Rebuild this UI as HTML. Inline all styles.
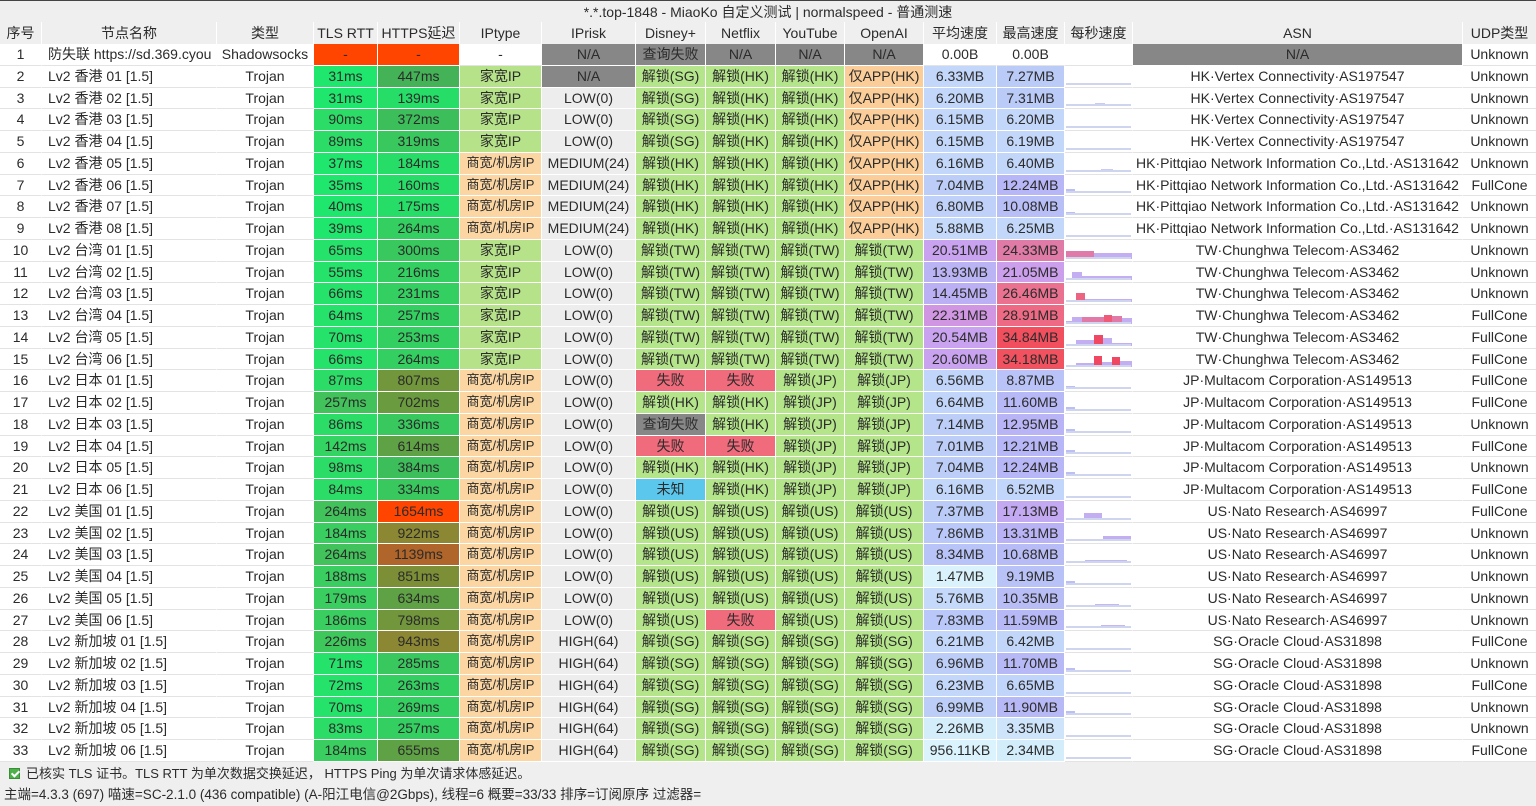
<!DOCTYPE html>
<html><head><meta charset="utf-8">
<style>
*{margin:0;padding:0;box-sizing:border-box}
body{width:1536px;height:806px;background:#efefef;font-family:"Liberation Sans","Noto Sans CJK SC",sans-serif;font-size:14px;color:#2b2b2b;overflow:hidden;position:relative}
.title{position:absolute;top:0;left:0;width:1536px;height:22px;line-height:22px;text-align:center;border-top:1px solid #444}
.hdr{position:absolute;top:22px;left:0;width:1536px;height:22px;display:flex;line-height:22px}
.tb{position:absolute;top:44px;left:0;width:1536px;background:#fff}
.r{display:flex;height:21.76px;line-height:20.76px}
.r>div,.hdr>div{flex:none;text-align:center;white-space:nowrap;overflow:hidden;border-right:1px solid #fff}
.r>div{background:#fff;border-bottom:1px solid #e3e3e3}
.r>div[class]{border-bottom-color:#fff}
.r>div:nth-child(1),.hdr>div:nth-child(1){width:42px}
.r>div:nth-child(2),.hdr>div:nth-child(2){width:175px}
.r>div:nth-child(2){text-align:left;padding-left:6px}
.r>div:nth-child(3),.hdr>div:nth-child(3){width:97px}
.r>div:nth-child(4),.hdr>div:nth-child(4){width:64px}
.r>div:nth-child(5),.hdr>div:nth-child(5){width:82px}
.r>div:nth-child(6),.hdr>div:nth-child(6){width:82px}
.r>div:nth-child(7),.hdr>div:nth-child(7){width:94px}
.r>div:nth-child(8),.hdr>div:nth-child(8){width:70px}
.r>div:nth-child(9),.hdr>div:nth-child(9){width:70px}
.r>div:nth-child(10),.hdr>div:nth-child(10){width:69px}
.r>div:nth-child(11),.hdr>div:nth-child(11){width:79px}
.r>div:nth-child(12),.hdr>div:nth-child(12){width:73px}
.r>div:nth-child(13),.hdr>div:nth-child(13){width:68px}
.r>div:nth-child(14),.hdr>div:nth-child(14){width:68px;position:relative}
.r>div:nth-child(15),.hdr>div:nth-child(15){width:330px}
.r>div:nth-child(16),.hdr>div:nth-child(16){width:73px;border-right:none}
.r>div:nth-child(14)::after{content:"";position:absolute;left:1px;right:1px;bottom:2px;height:2px;background:#cfd5ef}
.r:first-child>div:nth-child(14)::after{display:none}
.r>div:nth-child(14) i{position:absolute;bottom:2px;display:block}
.r>.a1{background:#1fe66c}.r>.a2{background:#25e26a}.r>.a3{background:#2bdd67}.r>.a4{background:#34d462}.r>.a5{background:#3acd5f}.r>.a6{background:#3ec85c}.r>.a7{background:#41c25a}
.r>.b1{background:#26dd68}.r>.b2{background:#33cf61}.r>.b3{background:#38c85e}.r>.b4{background:#3cbe5a}.r>.b5{background:#44b256}.r>.b6{background:#5fa245}.r>.b7{background:#6a9b3f}.r>.b8{background:#71963b}.r>.b9{background:#7c8f37}.r>.b10{background:#8b8733}.r>.b11{background:#b0652a}.r>.rd{background:#ff4500}
.r>.fm{background:#b6e28a}.r>.bz{background:#fbd6a3;font-size:13px}.r>.na{background:#878787}.r>.lo{background:#ededed}.r>.ok{background:#b5e58b}.r>.fl{background:#f06b7b}.r>.uk{background:#5cc7ec}.r>.ap{background:#fbcd98}
.foot1{position:absolute;top:763px;left:0;height:21px;line-height:21px;padding-left:26px;width:1536px;font-size:13px}
.foot2{position:absolute;top:784px;left:0;height:22px;line-height:22px;padding-left:4px;width:1536px;font-size:13.5px}
.cb{position:absolute;left:9px;top:5px;width:11px;height:11px;background:#4db14a;border:1px solid #3a8c38}
.cb::after{content:"";position:absolute;left:3px;top:0px;width:3px;height:6px;border:solid #fff;border-width:0 2px 2px 0;transform:rotate(45deg)}
</style></head><body>
<div class="title">*.*.top-1848 - MiaoKo 自定义测试 | normalspeed - 普通测速</div>
<div class="hdr"><div>序号</div><div>节点名称</div><div>类型</div><div>TLS RTT</div><div>HTTPS延迟</div><div>IPtype</div><div>IPrisk</div><div>Disney+</div><div>Netflix</div><div>YouTube</div><div>OpenAI</div><div>平均速度</div><div>最高速度</div><div>每秒速度</div><div>ASN</div><div>UDP类型</div></div>
<div class="tb">
<div class="r"><div>1</div><div>防失联 https://sd.369.cyou</div><div>Shadowsocks</div><div class="rd">-</div><div class="rd">-</div><div>-</div><div class="na">N/A</div><div class="na">查询失败</div><div class="na">N/A</div><div class="na">N/A</div><div class="na">N/A</div><div>0.00B</div><div>0.00B</div><div></div><div class="na">N/A</div><div>Unknown</div></div>
<div class="r"><div>2</div><div>Lv2 香港 01 [1.5]</div><div>Trojan</div><div class="a1">31ms</div><div class="b5">447ms</div><div class="fm">家宽IP</div><div class="na">N/A</div><div class="ok">解锁(SG)</div><div class="ok">解锁(HK)</div><div class="ok">解锁(HK)</div><div class="ap">仅APP(HK)</div><div class="s" style="background:#c3d7fa">6.33MB</div><div class="s" style="background:#bbcbf8">7.27MB</div><div></div><div>HK·Vertex Connectivity·AS197547</div><div>Unknown</div></div>
<div class="r"><div>3</div><div>Lv2 香港 02 [1.5]</div><div>Trojan</div><div class="a1">31ms</div><div class="b1">139ms</div><div class="fm">家宽IP</div><div class="lo">LOW(0)</div><div class="ok">解锁(SG)</div><div class="ok">解锁(HK)</div><div class="ok">解锁(HK)</div><div class="ap">仅APP(HK)</div><div class="s" style="background:#c3d7fa">6.20MB</div><div class="s" style="background:#bbcbf8">7.31MB</div><div><i style="left:30px;width:10px;height:3px;background:#c8ccf2"></i></div><div>HK·Vertex Connectivity·AS197547</div><div>Unknown</div></div>
<div class="r"><div>4</div><div>Lv2 香港 03 [1.5]</div><div>Trojan</div><div class="a3">90ms</div><div class="b4">372ms</div><div class="fm">家宽IP</div><div class="lo">LOW(0)</div><div class="ok">解锁(SG)</div><div class="ok">解锁(HK)</div><div class="ok">解锁(HK)</div><div class="ap">仅APP(HK)</div><div class="s" style="background:#c3d7fa">6.15MB</div><div class="s" style="background:#c3d7fa">6.20MB</div><div></div><div>HK·Vertex Connectivity·AS197547</div><div>Unknown</div></div>
<div class="r"><div>5</div><div>Lv2 香港 04 [1.5]</div><div>Trojan</div><div class="a3">89ms</div><div class="b3">319ms</div><div class="fm">家宽IP</div><div class="lo">LOW(0)</div><div class="ok">解锁(SG)</div><div class="ok">解锁(HK)</div><div class="ok">解锁(HK)</div><div class="ap">仅APP(HK)</div><div class="s" style="background:#c3d7fa">6.15MB</div><div class="s" style="background:#c3d7fa">6.19MB</div><div></div><div>HK·Vertex Connectivity·AS197547</div><div>Unknown</div></div>
<div class="r"><div>6</div><div>Lv2 香港 05 [1.5]</div><div>Trojan</div><div class="a1">37ms</div><div class="b1">184ms</div><div class="bz">商宽/机房IP</div><div class="lo">MEDIUM(24)</div><div class="ok">解锁(HK)</div><div class="ok">解锁(HK)</div><div class="ok">解锁(HK)</div><div class="ap">仅APP(HK)</div><div class="s" style="background:#c3d7fa">6.16MB</div><div class="s" style="background:#c2d6fa">6.40MB</div><div><i style="left:36px;width:12px;height:3px;background:#c8ccf2"></i></div><div>HK·Pittqiao Network Information Co.,Ltd.·AS131642</div><div>Unknown</div></div>
<div class="r"><div>7</div><div>Lv2 香港 06 [1.5]</div><div>Trojan</div><div class="a1">35ms</div><div class="b1">160ms</div><div class="bz">商宽/机房IP</div><div class="lo">MEDIUM(24)</div><div class="ok">解锁(HK)</div><div class="ok">解锁(HK)</div><div class="ok">解锁(HK)</div><div class="ap">仅APP(HK)</div><div class="s" style="background:#bccdf8">7.04MB</div><div class="s" style="background:#b7b6f6">12.24MB</div><div><i style="left:1px;width:9px;height:4px;background:#bcbff3"></i></div><div>HK·Pittqiao Network Information Co.,Ltd.·AS131642</div><div>FullCone</div></div>
<div class="r"><div>8</div><div>Lv2 香港 07 [1.5]</div><div>Trojan</div><div class="a1">40ms</div><div class="b1">175ms</div><div class="bz">商宽/机房IP</div><div class="lo">MEDIUM(24)</div><div class="ok">解锁(HK)</div><div class="ok">解锁(HK)</div><div class="ok">解锁(HK)</div><div class="ap">仅APP(HK)</div><div class="s" style="background:#bfd1f9">6.80MB</div><div class="s" style="background:#b8bef6">10.08MB</div><div><i style="left:1px;width:9px;height:3px;background:#bcbff3"></i></div><div>HK·Pittqiao Network Information Co.,Ltd.·AS131642</div><div>Unknown</div></div>
<div class="r"><div>9</div><div>Lv2 香港 08 [1.5]</div><div>Trojan</div><div class="a1">39ms</div><div class="b2">264ms</div><div class="bz">商宽/机房IP</div><div class="lo">MEDIUM(24)</div><div class="ok">解锁(HK)</div><div class="ok">解锁(HK)</div><div class="ok">解锁(HK)</div><div class="ap">仅APP(HK)</div><div class="s" style="background:#c5dafa">5.88MB</div><div class="s" style="background:#c3d7fa">6.25MB</div><div></div><div>HK·Pittqiao Network Information Co.,Ltd.·AS131642</div><div>Unknown</div></div>
<div class="r"><div>10</div><div>Lv2 台湾 01 [1.5]</div><div>Trojan</div><div class="a2">65ms</div><div class="b3">300ms</div><div class="fm">家宽IP</div><div class="lo">LOW(0)</div><div class="ok">解锁(TW)</div><div class="ok">解锁(TW)</div><div class="ok">解锁(TW)</div><div class="ok">解锁(TW)</div><div class="s" style="background:#c9a3ef">20.51MB</div><div class="s" style="background:#e07aa6">24.33MB</div><div><i style="left:1px;width:28px;height:8px;background:#e07aa8"></i><i style="left:29px;width:38px;height:6px;background:#c4aef2"></i></div><div>TW·Chunghwa Telecom·AS3462</div><div>Unknown</div></div>
<div class="r"><div>11</div><div>Lv2 台湾 02 [1.5]</div><div>Trojan</div><div class="a2">55ms</div><div class="b2">216ms</div><div class="fm">家宽IP</div><div class="lo">LOW(0)</div><div class="ok">解锁(TW)</div><div class="ok">解锁(TW)</div><div class="ok">解锁(TW)</div><div class="ok">解锁(TW)</div><div class="s" style="background:#bab3f4">13.93MB</div><div class="s" style="background:#cb9fec">21.05MB</div><div><i style="left:7px;width:10px;height:8px;background:#c4aef2"></i><i style="left:17px;width:50px;height:4px;background:#c4aef2"></i></div><div>TW·Chunghwa Telecom·AS3462</div><div>Unknown</div></div>
<div class="r"><div>12</div><div>Lv2 台湾 03 [1.5]</div><div>Trojan</div><div class="a2">66ms</div><div class="b2">231ms</div><div class="fm">家宽IP</div><div class="lo">LOW(0)</div><div class="ok">解锁(TW)</div><div class="ok">解锁(TW)</div><div class="ok">解锁(TW)</div><div class="ok">解锁(TW)</div><div class="s" style="background:#bcb0f4">14.45MB</div><div class="s" style="background:#ea7290">26.46MB</div><div><i style="left:1px;width:10px;height:2px;background:#c4aef2"></i><i style="left:11px;width:9px;height:9px;background:#ec6482"></i><i style="left:20px;width:47px;height:3px;background:#c4aef2"></i></div><div>TW·Chunghwa Telecom·AS3462</div><div>Unknown</div></div>
<div class="r"><div>13</div><div>Lv2 台湾 04 [1.5]</div><div>Trojan</div><div class="a2">64ms</div><div class="b2">257ms</div><div class="fm">家宽IP</div><div class="lo">LOW(0)</div><div class="ok">解锁(TW)</div><div class="ok">解锁(TW)</div><div class="ok">解锁(TW)</div><div class="ok">解锁(TW)</div><div class="s" style="background:#d196e2">22.31MB</div><div class="s" style="background:#ee6a84">28.91MB</div><div><i style="left:1px;width:6px;height:3px;background:#c4aef2"></i><i style="left:7px;width:10px;height:7px;background:#c4aef2"></i><i style="left:17px;width:22px;height:7px;background:#e27aa8"></i><i style="left:39px;width:8px;height:9px;background:#ee5a78"></i><i style="left:47px;width:10px;height:8px;background:#e27aa8"></i><i style="left:57px;width:10px;height:6px;background:#c4aef2"></i></div><div>TW·Chunghwa Telecom·AS3462</div><div>FullCone</div></div>
<div class="r"><div>14</div><div>Lv2 台湾 05 [1.5]</div><div>Trojan</div><div class="a2">70ms</div><div class="b2">253ms</div><div class="fm">家宽IP</div><div class="lo">LOW(0)</div><div class="ok">解锁(TW)</div><div class="ok">解锁(TW)</div><div class="ok">解锁(TW)</div><div class="ok">解锁(TW)</div><div class="s" style="background:#c9a3ef">20.54MB</div><div class="s" style="background:#f24f5e">34.84MB</div><div><i style="left:1px;width:10px;height:2px;background:#c4aef2"></i><i style="left:11px;width:18px;height:6px;background:#c4aef2"></i><i style="left:29px;width:9px;height:11px;background:#f04862"></i><i style="left:38px;width:9px;height:8px;background:#c4aef2"></i><i style="left:47px;width:20px;height:3px;background:#c4aef2"></i></div><div>TW·Chunghwa Telecom·AS3462</div><div>FullCone</div></div>
<div class="r"><div>15</div><div>Lv2 台湾 06 [1.5]</div><div>Trojan</div><div class="a2">66ms</div><div class="b2">264ms</div><div class="fm">家宽IP</div><div class="lo">LOW(0)</div><div class="ok">解锁(TW)</div><div class="ok">解锁(TW)</div><div class="ok">解锁(TW)</div><div class="ok">解锁(TW)</div><div class="s" style="background:#c9a3ef">20.60MB</div><div class="s" style="background:#f2525f">34.18MB</div><div><i style="left:1px;width:10px;height:2px;background:#c4aef2"></i><i style="left:11px;width:18px;height:4px;background:#c4aef2"></i><i style="left:29px;width:8px;height:11px;background:#f04862"></i><i style="left:37px;width:10px;height:5px;background:#c4aef2"></i><i style="left:47px;width:8px;height:10px;background:#f04862"></i><i style="left:55px;width:12px;height:6px;background:#c4aef2"></i></div><div>TW·Chunghwa Telecom·AS3462</div><div>FullCone</div></div>
<div class="r"><div>16</div><div>Lv2 日本 01 [1.5]</div><div>Trojan</div><div class="a3">87ms</div><div class="b8">807ms</div><div class="bz">商宽/机房IP</div><div class="lo">LOW(0)</div><div class="fl">失败</div><div class="fl">失败</div><div class="ok">解锁(JP)</div><div class="ok">解锁(JP)</div><div class="s" style="background:#c1d4f9">6.56MB</div><div class="s" style="background:#b9c3f7">8.87MB</div><div><i style="left:1px;width:9px;height:3px;background:#bcbff3"></i></div><div>JP·Multacom Corporation·AS149513</div><div>FullCone</div></div>
<div class="r"><div>17</div><div>Lv2 日本 02 [1.5]</div><div>Trojan</div><div class="a7">257ms</div><div class="b7">702ms</div><div class="bz">商宽/机房IP</div><div class="lo">LOW(0)</div><div class="ok">解锁(HK)</div><div class="ok">解锁(HK)</div><div class="ok">解锁(JP)</div><div class="ok">解锁(JP)</div><div class="s" style="background:#c1d4f9">6.64MB</div><div class="s" style="background:#b7b9f6">11.60MB</div><div><i style="left:1px;width:9px;height:4px;background:#bcbff3"></i></div><div>JP·Multacom Corporation·AS149513</div><div>FullCone</div></div>
<div class="r"><div>18</div><div>Lv2 日本 03 [1.5]</div><div>Trojan</div><div class="a3">86ms</div><div class="b3">336ms</div><div class="bz">商宽/机房IP</div><div class="lo">LOW(0)</div><div class="na">查询失败</div><div class="ok">解锁(HK)</div><div class="ok">解锁(JP)</div><div class="ok">解锁(JP)</div><div class="s" style="background:#bccdf8">7.14MB</div><div class="s" style="background:#b8b4f5">12.95MB</div><div><i style="left:1px;width:9px;height:4px;background:#bcbff3"></i></div><div>JP·Multacom Corporation·AS149513</div><div>Unknown</div></div>
<div class="r"><div>19</div><div>Lv2 日本 04 [1.5]</div><div>Trojan</div><div class="a4">142ms</div><div class="b6">614ms</div><div class="bz">商宽/机房IP</div><div class="lo">LOW(0)</div><div class="fl">失败</div><div class="fl">失败</div><div class="ok">解锁(JP)</div><div class="ok">解锁(JP)</div><div class="s" style="background:#bccdf8">7.01MB</div><div class="s" style="background:#b7b6f6">12.21MB</div><div><i style="left:1px;width:9px;height:4px;background:#bcbff3"></i></div><div>JP·Multacom Corporation·AS149513</div><div>FullCone</div></div>
<div class="r"><div>20</div><div>Lv2 日本 05 [1.5]</div><div>Trojan</div><div class="a3">98ms</div><div class="b4">384ms</div><div class="bz">商宽/机房IP</div><div class="lo">LOW(0)</div><div class="ok">解锁(HK)</div><div class="ok">解锁(HK)</div><div class="ok">解锁(JP)</div><div class="ok">解锁(JP)</div><div class="s" style="background:#bccdf8">7.04MB</div><div class="s" style="background:#b7b6f6">12.24MB</div><div><i style="left:1px;width:9px;height:4px;background:#bcbff3"></i></div><div>JP·Multacom Corporation·AS149513</div><div>Unknown</div></div>
<div class="r"><div>21</div><div>Lv2 日本 06 [1.5]</div><div>Trojan</div><div class="a3">84ms</div><div class="b3">334ms</div><div class="bz">商宽/机房IP</div><div class="lo">LOW(0)</div><div class="uk">未知</div><div class="ok">解锁(HK)</div><div class="ok">解锁(JP)</div><div class="ok">解锁(JP)</div><div class="s" style="background:#c3d7fa">6.16MB</div><div class="s" style="background:#c2d5fa">6.52MB</div><div></div><div>JP·Multacom Corporation·AS149513</div><div>FullCone</div></div>
<div class="r"><div>22</div><div>Lv2 美国 01 [1.5]</div><div>Trojan</div><div class="a7">264ms</div><div class="rd">1654ms</div><div class="bz">商宽/机房IP</div><div class="lo">LOW(0)</div><div class="ok">解锁(US)</div><div class="ok">解锁(US)</div><div class="ok">解锁(US)</div><div class="ok">解锁(US)</div><div class="s" style="background:#bbcbf8">7.37MB</div><div class="s" style="background:#c3a9f2">17.13MB</div><div><i style="left:19px;width:18px;height:7px;background:#c4aef2"></i></div><div>US·Nato Research·AS46997</div><div>FullCone</div></div>
<div class="r"><div>23</div><div>Lv2 美国 02 [1.5]</div><div>Trojan</div><div class="a5">184ms</div><div class="b10">922ms</div><div class="bz">商宽/机房IP</div><div class="lo">LOW(0)</div><div class="ok">解锁(US)</div><div class="ok">解锁(US)</div><div class="ok">解锁(US)</div><div class="ok">解锁(US)</div><div class="s" style="background:#b9c8f8">7.86MB</div><div class="s" style="background:#b9b3f5">13.31MB</div><div><i style="left:38px;width:28px;height:5px;background:#c4aef2"></i></div><div>US·Nato Research·AS46997</div><div>Unknown</div></div>
<div class="r"><div>24</div><div>Lv2 美国 03 [1.5]</div><div>Trojan</div><div class="a7">264ms</div><div class="b11">1139ms</div><div class="bz">商宽/机房IP</div><div class="lo">LOW(0)</div><div class="ok">解锁(US)</div><div class="ok">解锁(US)</div><div class="ok">解锁(US)</div><div class="ok">解锁(US)</div><div class="s" style="background:#b8c4f7">8.34MB</div><div class="s" style="background:#b8bcf6">10.68MB</div><div><i style="left:20px;width:42px;height:3px;background:#c4b8f2"></i></div><div>US·Nato Research·AS46997</div><div>Unknown</div></div>
<div class="r"><div>25</div><div>Lv2 美国 04 [1.5]</div><div>Trojan</div><div class="a5">188ms</div><div class="b9">851ms</div><div class="bz">商宽/机房IP</div><div class="lo">LOW(0)</div><div class="ok">解锁(US)</div><div class="ok">解锁(US)</div><div class="ok">解锁(US)</div><div class="ok">解锁(US)</div><div class="s" style="background:#daf2fb">1.47MB</div><div class="s" style="background:#b9c2f7">9.19MB</div><div><i style="left:1px;width:9px;height:4px;background:#bcbff3"></i></div><div>US·Nato Research·AS46997</div><div>Unknown</div></div>
<div class="r"><div>26</div><div>Lv2 美国 05 [1.5]</div><div>Trojan</div><div class="a5">179ms</div><div class="b6">634ms</div><div class="bz">商宽/机房IP</div><div class="lo">LOW(0)</div><div class="ok">解锁(US)</div><div class="ok">解锁(US)</div><div class="ok">解锁(US)</div><div class="ok">解锁(US)</div><div class="s" style="background:#c5dafa">5.76MB</div><div class="s" style="background:#b8bdf6">10.35MB</div><div><i style="left:30px;width:24px;height:3px;background:#c4b8f2"></i></div><div>US·Nato Research·AS46997</div><div>Unknown</div></div>
<div class="r"><div>27</div><div>Lv2 美国 06 [1.5]</div><div>Trojan</div><div class="a5">186ms</div><div class="b8">798ms</div><div class="bz">商宽/机房IP</div><div class="lo">LOW(0)</div><div class="ok">解锁(US)</div><div class="fl">失败</div><div class="ok">解锁(US)</div><div class="ok">解锁(US)</div><div class="s" style="background:#b9c8f8">7.83MB</div><div class="s" style="background:#b7b9f6">11.59MB</div><div><i style="left:36px;width:24px;height:3px;background:#c4b8f2"></i></div><div>US·Nato Research·AS46997</div><div>Unknown</div></div>
<div class="r"><div>28</div><div>Lv2 新加坡 01 [1.5]</div><div>Trojan</div><div class="a6">226ms</div><div class="b10">943ms</div><div class="bz">商宽/机房IP</div><div class="lo">HIGH(64)</div><div class="ok">解锁(SG)</div><div class="ok">解锁(SG)</div><div class="ok">解锁(SG)</div><div class="ok">解锁(SG)</div><div class="s" style="background:#c3d7fa">6.21MB</div><div class="s" style="background:#c2d6fa">6.42MB</div><div></div><div>SG·Oracle Cloud·AS31898</div><div>FullCone</div></div>
<div class="r"><div>29</div><div>Lv2 新加坡 02 [1.5]</div><div>Trojan</div><div class="a2">71ms</div><div class="b3">285ms</div><div class="bz">商宽/机房IP</div><div class="lo">HIGH(64)</div><div class="ok">解锁(SG)</div><div class="ok">解锁(SG)</div><div class="ok">解锁(SG)</div><div class="ok">解锁(SG)</div><div class="s" style="background:#bccdf8">6.96MB</div><div class="s" style="background:#b7b8f6">11.70MB</div><div><i style="left:1px;width:9px;height:4px;background:#bcbff3"></i></div><div>SG·Oracle Cloud·AS31898</div><div>Unknown</div></div>
<div class="r"><div>30</div><div>Lv2 新加坡 03 [1.5]</div><div>Trojan</div><div class="a2">72ms</div><div class="b2">263ms</div><div class="bz">商宽/机房IP</div><div class="lo">HIGH(64)</div><div class="ok">解锁(SG)</div><div class="ok">解锁(SG)</div><div class="ok">解锁(SG)</div><div class="ok">解锁(SG)</div><div class="s" style="background:#c3d7fa">6.23MB</div><div class="s" style="background:#c1d4f9">6.65MB</div><div></div><div>SG·Oracle Cloud·AS31898</div><div>FullCone</div></div>
<div class="r"><div>31</div><div>Lv2 新加坡 04 [1.5]</div><div>Trojan</div><div class="a2">70ms</div><div class="b2">269ms</div><div class="bz">商宽/机房IP</div><div class="lo">HIGH(64)</div><div class="ok">解锁(SG)</div><div class="ok">解锁(SG)</div><div class="ok">解锁(SG)</div><div class="ok">解锁(SG)</div><div class="s" style="background:#bccdf8">6.99MB</div><div class="s" style="background:#b7b8f6">11.90MB</div><div><i style="left:1px;width:9px;height:4px;background:#bcbff3"></i></div><div>SG·Oracle Cloud·AS31898</div><div>Unknown</div></div>
<div class="r"><div>32</div><div>Lv2 新加坡 05 [1.5]</div><div>Trojan</div><div class="a3">83ms</div><div class="b2">257ms</div><div class="bz">商宽/机房IP</div><div class="lo">HIGH(64)</div><div class="ok">解锁(SG)</div><div class="ok">解锁(SG)</div><div class="ok">解锁(SG)</div><div class="ok">解锁(SG)</div><div class="s" style="background:#d3edfb">2.26MB</div><div class="s" style="background:#cde4fb">3.35MB</div><div></div><div>SG·Oracle Cloud·AS31898</div><div>Unknown</div></div>
<div class="r"><div>33</div><div>Lv2 新加坡 06 [1.5]</div><div>Trojan</div><div class="a5">184ms</div><div class="b6">655ms</div><div class="bz">商宽/机房IP</div><div class="lo">HIGH(64)</div><div class="ok">解锁(SG)</div><div class="ok">解锁(SG)</div><div class="ok">解锁(SG)</div><div class="ok">解锁(SG)</div><div class="s" style="background:#dbf3fc">956.11KB</div><div class="s" style="background:#d3edfb">2.34MB</div><div></div><div>SG·Oracle Cloud·AS31898</div><div>FullCone</div></div>
</div>
<div class="foot1"><span class="cb"></span>已核实 TLS 证书。TLS RTT 为单次数据交换延迟， HTTPS Ping 为单次请求体感延迟。</div>
<div class="foot2">主端=4.3.3 (697) 喵速=SC-2.1.0 (436 compatible) (A-阳江电信@2Gbps), 线程=6 概要=33/33 排序=订阅原序 过滤器=</div>
</body></html>
